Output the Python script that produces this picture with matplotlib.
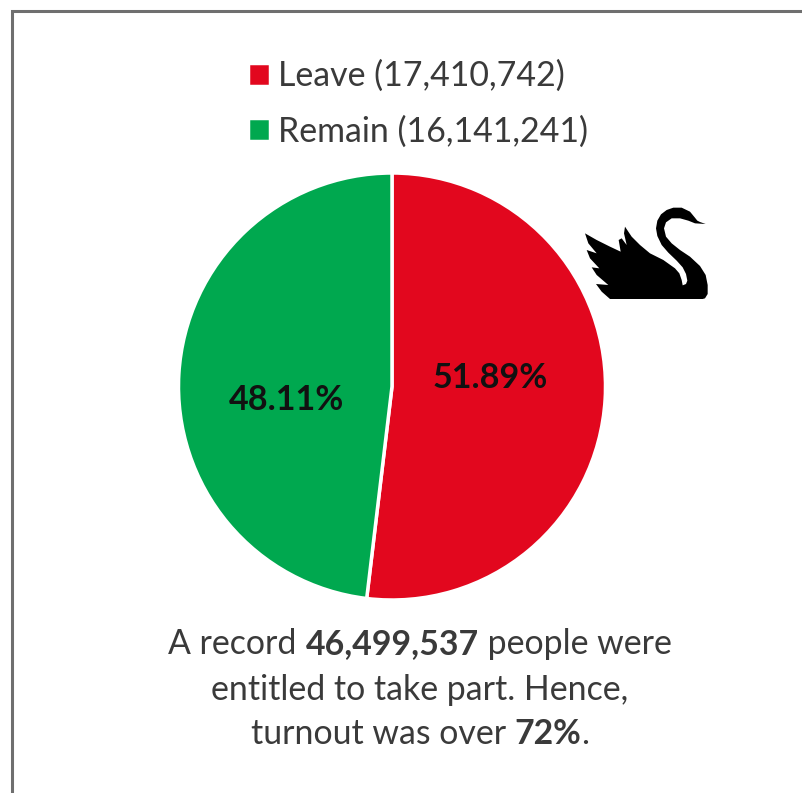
import matplotlib.pyplot as plt
from matplotlib.patches import Polygon

W, H = 803, 793

sides = ['Leave', 'Remain']
votes = [17410742, 16141241]
shares = ['51.89%', '48.11%']
colors = ['#e2071e', '#00a84f']

caption = [
    [('A record ', 'normal'), ('46,499,537', 'bold'), (' people were', 'normal')],
    [('entitled to take part. Hence,', 'normal')],
    [('turnout was over ', 'normal'), ('72%', 'bold'), ('.', 'normal')],
]

# swan outline, pixels from the top left of the swan box
swan = [(437, 102), (420, 96), (412, 92), (404, 82), (390, 65), (365, 53), (340, 53),
        (320, 60), (303, 73), (292, 92), (288, 115), (292, 138), (305, 165), (325, 188),
        (350, 212), (368, 232), (378, 252), (382, 272), (378, 282), (368, 286), (365, 270),
        (358, 250), (345, 235), (310, 210), (270, 190), (240, 165), (215, 140), (205, 125),
        (195, 110), (192, 130), (200, 165), (185, 145), (176, 150), (182, 185), (150, 170),
        (110, 150), (75, 130), (85, 160), (110, 190), (80, 180), (90, 205), (118, 235),
        (95, 232), (110, 255), (145, 285), (108, 282), (125, 305), (150, 327), (428, 327),
        (435, 325), (443, 312), (443, 285), (437, 255), (420, 228), (390, 200), (360, 180),
        (335, 160), (318, 140), (312, 115), (318, 97), (335, 85), (360, 85), (385, 92),
        (405, 100)]

plt.rcParams['font.family'] = ['Lato', 'DejaVu Sans']
text_color = '#3a3a3a'


def flip(y):
    return H - y


def draw_runs(runs, y, size):
    # measure each piece first so the mixed weight line can be centred
    renderer = fig.canvas.get_renderer()
    pieces = []
    total = 0
    for s, weight in runs:
        t = ax.text(0, flip(y), s.replace(' ', '\u00a0'), fontsize=size, fontweight=weight,
                    color=text_color, ha='left', va='baseline')
        w = t.get_window_extent(renderer).width
        pieces.append((t, w))
        total += w
    x = 420 - total / 2
    for t, w in pieces:
        t.set_x(x)
        x += w


fig = plt.figure(figsize=(W / 100, H / 100), dpi=100)
ax = fig.add_axes([0, 0, 1, 1])

wedges, _ = ax.pie(votes, colors=colors, startangle=90, counterclock=False,
                   center=(392, flip(386.5)), radius=213.5, frame=True,
                   wedgeprops={'edgecolor': 'white', 'linewidth': 2.5})
ax.set_xlim(0, W)
ax.set_ylim(0, H)
ax.set_aspect('equal')
ax.axis('off')

ax.text(490, flip(378), shares[0], fontsize=24.6, fontweight='bold', color='#111111',
        ha='center', va='center')
ax.text(286.5, flip(400), shares[1], fontsize=24.6, fontweight='bold', color='#111111',
        ha='center', va='center')

labels = [f'{s} ({v:,})' for s, v in zip(sides, votes)]
ax.legend(wedges, labels, loc='upper left', bbox_to_anchor=(248 / W, 1 - 60 / H),
          frameon=False, fontsize=24.4, labelcolor=text_color, handlelength=0.66,
          handleheight=0.66, handletextpad=0.22, labelspacing=0.68,
          borderpad=0, borderaxespad=0)

# swan sits beside the pie, outline was taken at three times its size
ax.add_patch(Polygon([(560 + x / 3, flip(190 + y / 3)) for x, y in swan],
                     closed=True, facecolor='black', edgecolor='none', zorder=5))

for i, runs in enumerate(caption):
    draw_runs(runs, 654.5 + i * 45, 24.4)

# frame only shows on the top and left
ax.plot([12, 12, W], [0, flip(11), flip(11)], color='#6f6f6f', lw=2.2, clip_on=False,
        solid_joinstyle='miter')

fig.savefig('out.png', dpi=100)
